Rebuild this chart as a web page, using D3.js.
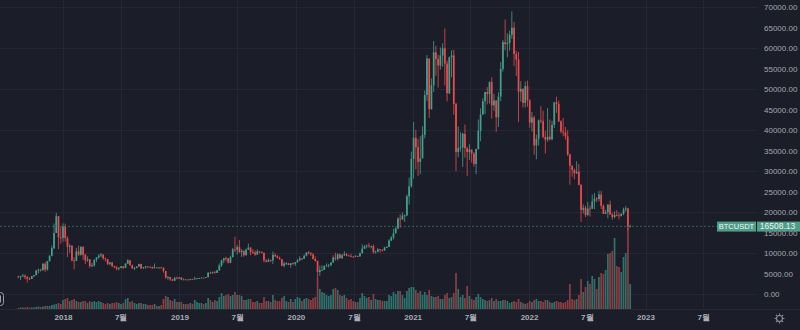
<!DOCTYPE html>
<html><head><meta charset="utf-8">
<script src="https://cdn.jsdelivr.net/npm/d3@7"></script>
<style>
html,body{margin:0;padding:0;background:#1b1e28;}
svg{display:block;}
text{font-family:"Liberation Sans",Arial,sans-serif;}
</style></head><body>
<svg id="c" width="800" height="330"></svg>
<script>
// ---- data (weekly BTCUSDT candles) ----
const symbol = "BTCUSDT";
const firstWeek = "2017-08-14";
const firstOpen = 4261.48;
const lastPrice = 16508.13;

const close2017 = [4086,4310,4509,4130,3699,3660,4378,4610,5710,5930,5750,7363,5950,8039,9318,11165,14900,19000,13800,13716];
const high2017  = [4485,4453,4939,4788,4394,4123,4406,4645,5856,6171,6189,7590,7776,8100,9474,11825,17204,19798,19000,16299];
const low2017   = [3850,3400,4124,3603,2817,3505,3653,4110,4554,5037,5480,6000,5325,5699,7900,9200,11000,15000,11000,12300];
const vol2017   = [30,45,45,45,60,45,45,45,60,75,60,75,90,90,90,120,135,150,180,150];

const close2018 = [16477,13650,11530,11786,8180,8063,10383,9590,11454,9533,8185,8457,6813,7026,8355,8925,9392,9650,8700,8517,7355,7720,6780,6470,6160,6390,6760,6350,7400,8220,7030,6310,6380,6700,7300,6250,6490,6710,6630,6590,6310,6490,6460,6470,6390,5600,4000,4140,3600,3230,3930,3820];
const high2018  = [17252,17176,14109,12244,11877,8950,11274,11788,11700,11710,9887,9177,8496,7530,8429,9035,9759,9990,9650,8881,8540,7760,7750,6900,6850,6520,6840,6790,7580,8507,8285,7150,6600,6790,7360,7410,6600,6830,6790,6670,6700,7450,6530,6550,6630,6500,5600,4380,4160,3600,4200,4240];
const low2018   = [12750,12812,9035,10031,7930,6000,8080,9295,9366,8329,7322,7850,6425,6575,6611,7820,8651,8960,8328,7920,7058,7040,6650,6300,5755,5791,6270,6070,6350,7360,6950,6075,5880,6250,6660,6110,6180,6200,6450,6420,6100,6260,6360,6250,6300,5200,3700,3470,3260,3150,3200,3600];
const vol2018   = [270,300,330,240,270,300,240,210,210,240,240,180,240,210,240,210,240,210,180,150,180,150,180,180,210,180,150,180,300,330,210,240,180,150,180,180,150,150,120,120,120,150,90,90,120,300,390,360,270,240,300,210];

const close2019 = [4040,3510,3540,3530,3410,3650,3620,3740,3800,3900,4000,3980,4100,5200,5070,5290,5150,5770,6960,8200,8740,8730,7630,8980,10860,10820,11450,10200,10530,9480,10800,11330,10230,10140,9630,10400,10300,10050,8200,7870,8280,8230,9550,9200,8810,8500,6900,7420,7500,7080,7510,7380];
const high2019  = [4090,4110,3820,3680,3570,3690,3720,4200,3890,3960,4020,4080,4140,5340,5470,5460,5620,5900,7470,8370,8800,9090,8800,9350,11240,13970,12000,13200,10980,10680,11100,12330,11450,10950,10630,10900,10450,10350,10100,8520,8700,8420,10370,9950,9500,9130,8550,7870,7750,7600,7520,7700];
const low2019   = [3650,3470,3450,3480,3380,3370,3570,3620,3690,3670,3830,3940,3890,4090,4900,4950,5020,5140,5700,6600,7500,8000,7440,7510,8980,10300,9610,10100,9070,9110,9380,10800,9470,9800,9320,9600,9950,9850,7710,7730,7780,7830,7300,9030,8690,8400,6790,6515,7080,7030,6435,7130];
const vol2019   = [210,210,150,150,150,180,150,270,210,180,180,150,180,330,270,210,270,240,360,480,390,420,450,390,420,510,420,420,390,270,270,300,300,210,210,240,180,180,360,240,240,210,420,270,240,240,330,390,240,210,300,210];

const close2020 = [7760,8180,8700,8600,9330,10150,9920,9660,8530,8040,5360,5820,5880,6780,6910,7120,7700,8890,8570,9670,8720,9450,9750,9390,9290,9120,9070,9300,9170,9930,11070,11680,11850,11650,11700,10250,10330,10920,10770,10670,11370,11500,13030,13780,14830,15980,18400,18180,19150,19170,23850,26280,33000];
const high2020  = [7810,8450,9190,8750,9600,10160,10500,10250,9960,9190,8180,6900,6970,7000,7470,7290,7740,9460,10070,9950,9900,9740,10420,9990,9590,9800,9240,9470,9350,10120,12120,11910,12090,12480,11800,12090,10600,11180,10990,10950,11500,11720,13350,14100,15960,16480,18800,19490,19920,19420,24300,28420,34780];
const low2020   = [6870,7660,8110,8230,8570,9170,9650,9300,8450,7900,3782,4440,5670,5860,6760,6470,6750,7660,8110,8200,8700,8630,9270,9200,9240,8980,8900,9050,9060,9130,9980,10990,11100,11340,11120,9820,9870,10200,10130,10370,10500,11220,11420,12900,13300,14800,15800,16200,18200,17600,19000,21800,25970];
const vol2020   = [300,360,330,240,300,330,300,270,330,360,930,600,510,480,420,390,420,600,630,570,420,390,420,330,270,300,240,210,210,330,480,390,330,360,270,450,300,270,270,240,240,240,420,390,510,450,540,540,420,330,540,630,660];

const close2021 = [38150,35830,32260,33090,38870,48580,57490,45140,50970,59020,57350,55780,58200,60000,56250,49000,57800,58240,46430,34650,35650,35800,39100,35600,34680,35300,34260,31780,35400,39850,43800,47080,49300,48800,51750,46060,47260,43160,48200,54950,61500,61000,61300,63300,65000,58600,57270,49400,50100,46680,50780,47300];
const high2021  = [41950,40100,37850,38530,40950,49700,58350,57500,52640,61780,60600,58420,60200,61200,64850,57000,57960,59500,59590,46640,40900,39480,39380,41330,36000,36600,35100,34680,35500,42600,45300,47800,49380,50500,51900,52900,48850,47300,49250,56600,62000,67000,63700,64300,69000,66400,59400,59100,51950,50200,51900,52100];
const low2021   = [28130,30420,28850,29240,33410,38000,47100,43000,45000,49300,53270,50400,54800,55470,50900,47000,48800,52900,43800,30000,33400,34800,31000,33300,28800,32700,32100,31100,29280,35200,37300,43800,43950,46300,46500,42800,44700,39600,40750,47100,54300,59500,57800,59400,62300,55600,53250,42000,47000,45500,45550,45700];
const vol2021   = [660,570,480,540,420,510,420,570,390,360,360,390,300,300,420,480,330,360,480,1080,600,360,420,330,690,390,300,270,360,450,360,300,270,240,270,330,240,300,240,240,270,270,240,180,210,240,210,300,210,180,150,180];

const close2022 = [41860,43080,36280,37880,42400,42200,38350,37700,38400,37780,41260,46800,46400,42150,39700,39450,38470,34060,31300,30300,29450,29900,26600,20550,21030,19300,20850,20800,22580,23300,23180,24300,21530,19550,19950,21830,19420,18800,19310,19200,19070,19570,20630,20900,16330,16508.13];
const high2022  = [47570,44450,43500,38900,42600,45850,44750,39850,45400,42600,42300,46900,48200,47200,42450,42980,40800,40000,34250,31400,30650,32400,31750,26900,21870,21550,22500,21600,24280,24670,23650,25200,25200,21880,20570,21860,22800,19950,20200,20480,19950,19700,21090,21480,21050,16900];
const low2022   = [40600,39650,34000,32900,36250,41700,38000,34300,37150,37500,37550,40500,44200,42000,39200,38550,37700,33700,26700,28650,28000,29300,26560,17600,19640,18780,19050,18900,20750,20700,22400,22660,20750,19520,19550,18500,19320,18130,18500,18950,18200,18900,19250,20050,15590,16300];
const vol2022   = [240,210,270,300,240,240,210,270,270,210,180,210,240,210,210,180,210,270,750,300,270,300,420,900,510,660,840,750,990,900,600,960,1080,1050,1170,1650,1680,1740,2130,1290,1260,1110,1560,1680,2430,750];

const priceTicks = [0,5000,10000,15000,20000,25000,30000,35000,40000,45000,50000,55000,60000,65000,70000];
const gridPrices = [0,10000,20000,30000,40000,50000,60000,70000];
const timeTicks = ["2018-01-01","2018-07-01","2019-01-01","2019-07-01","2020-01-01","2020-07-01","2021-01-01","2021-07-01","2022-01-01","2022-07-01","2023-01-01","2023-07-01"];
const timeTickLabels = ["2018","7월","2019","7월","2020","7월","2021","7월","2022","7월","2023","7월"];

// ---- build candles ----
const closes = [].concat(close2017, close2018, close2019, close2020, close2021, close2022);
const highs  = [].concat(high2017, high2018, high2019, high2020, high2021, high2022);
const lows   = [].concat(low2017, low2018, low2019, low2020, low2021, low2022);
const vols   = [].concat(vol2017, vol2018, vol2019, vol2020, vol2021, vol2022);
const parse = d3.timeParse("%Y-%m-%d");
const start = parse(firstWeek);
const candles = closes.map((c, i) => ({
  date: d3.timeMonday.offset(start, i),
  open: i === 0 ? firstOpen : closes[i - 1],
  close: c, high: highs[i], low: lows[i], vol: vols[i]
}));

// ---- drawing ----
const W = 800, H = 330, plotRight = 757, volBase = 309;
const svg = d3.select("#c");
const bg = "#1b1e28";
svg.append("rect").attr("width", W).attr("height", H).attr("fill", bg);

const x = d3.scaleTime().domain([parse("2018-01-01"), parse("2023-01-01")]).range([63, 645.5]);
const y = d3.scaleLinear().domain([0, 70000]).range([294, 7.3]);
const yv = d3.scaleLinear().domain([0, 3000]).range([volBase, volBase - 100]);

const upC = "#43a08b", dnC = "#ec4a4e";
const upV = "#30716b", dnV = "#8c3e42";
const bw = 1.7;

// grid
const grid = svg.append("g").attr("stroke", "#242835").attr("stroke-width", 1);
grid.selectAll("line.h").data(gridPrices).join("line").attr("class", "h")
  .attr("x1", 0).attr("x2", plotRight)
  .attr("y1", d => Math.round(y(d)) + 0.5).attr("y2", d => Math.round(y(d)) + 0.5);
grid.selectAll("line.v").data(timeTicks).join("line").attr("class", "v")
  .attr("x1", d => Math.round(x(parse(d))) + 0.5).attr("x2", d => Math.round(x(parse(d))) + 0.5)
  .attr("y1", 0).attr("y2", volBase);

// volume bars
svg.append("g").selectAll("rect").data(candles).join("rect")
  .attr("x", d => x(d.date) - bw / 2).attr("width", bw)
  .attr("y", d => yv(d.vol)).attr("height", d => volBase - yv(d.vol))
  .attr("fill", d => d.close >= d.open ? upV : dnV);

// candles
const cg = svg.append("g");
cg.selectAll("line").data(candles).join("line")
  .attr("x1", d => x(d.date)).attr("x2", d => x(d.date))
  .attr("y1", d => y(d.high)).attr("y2", d => y(d.low))
  .attr("stroke", d => d.close >= d.open ? upC : dnC).attr("stroke-width", 0.8);
cg.selectAll("rect").data(candles).join("rect")
  .attr("x", d => x(d.date) - bw / 2).attr("width", bw)
  .attr("y", d => y(Math.max(d.open, d.close)))
  .attr("height", d => Math.max(0.8, Math.abs(y(d.open) - y(d.close))))
  .attr("fill", d => d.close >= d.open ? upC : dnC);

// last price line
const yl = y(lastPrice);
svg.append("line").attr("x1", 0).attr("x2", 717).attr("y1", yl).attr("y2", yl)
  .attr("stroke", "#3a7a6d").attr("stroke-opacity", 0.75).attr("stroke-width", 1).attr("stroke-dasharray", "2,2");

// price axis labels
const yAxis = d3.axisRight(y).tickValues(priceTicks).tickFormat(d3.format(".2f")).tickSize(0).tickPadding(0);
const ya = svg.append("g").attr("transform", "translate(764,0)").call(yAxis);
ya.select(".domain").remove();
ya.selectAll("text").attr("fill", "#a3a6af").attr("font-size", 8).attr("font-family", "Liberation Sans, Arial, sans-serif");

// price tag (covers part of the 15000.00 label, as in the reference)
const tag = svg.append("g");
tag.append("rect").attr("x", 717).attr("y", yl - 4.8).attr("width", 39).attr("height", 10).attr("fill", "#4d9d88");
tag.append("rect").attr("x", 757).attr("y", yl - 4.8).attr("width", 43).attr("height", 10).attr("fill", "#4d9d88");
tag.append("text").attr("x", 736.5).attr("y", yl + 3).attr("text-anchor", "middle")
  .attr("fill", "#eef4f2").attr("font-size", 7.5).text(symbol);
tag.append("text").attr("x", 777.5).attr("y", yl + 3).attr("text-anchor", "middle")
  .attr("fill", "#eef4f2").attr("font-size", 8.5).text(d3.format(".2f")(lastPrice));

// time axis
svg.append("line").attr("x1", 0).attr("x2", W).attr("y1", volBase + 0.5).attr("y2", volBase + 0.5)
  .attr("stroke", "#262a36");
const xAxis = d3.axisBottom(x).tickValues(timeTicks.map(parse))
  .tickFormat((d, i) => timeTickLabels[i]).tickSize(0).tickPadding(0);
const xa = svg.append("g").attr("transform", "translate(0,314)").call(xAxis);
xa.select(".domain").remove();
xa.selectAll("text").attr("fill", "#a9acb5").attr("font-size", 8).attr("font-weight", "bold")
  .attr("font-family", "Liberation Sans, Arial, sans-serif");

// gear icon
const gear = svg.append("g").attr("transform", "translate(779.5,318.5)")
  .attr("stroke", "#8d909a").attr("fill", "none").attr("stroke-width", 1.1);
gear.append("circle").attr("r", 3);
gear.selectAll("line").data(d3.range(8)).join("line")
  .attr("x1", d => 3.6 * Math.cos(d * Math.PI / 4)).attr("y1", d => 3.6 * Math.sin(d * Math.PI / 4))
  .attr("x2", d => 5 * Math.cos(d * Math.PI / 4)).attr("y2", d => 5 * Math.sin(d * Math.PI / 4));

// left edge badge
const badge = svg.append("g").attr("stroke", "#9a9da6").attr("fill", "none").attr("stroke-width", 1);
badge.append("rect").attr("x", -6).attr("y", 292.5).attr("width", 9.5).attr("height", 13).attr("rx", 3);
badge.append("line").attr("x1", 0.5).attr("x2", 0.5).attr("y1", 295.5).attr("y2", 302.5);
</script>
</body></html>
